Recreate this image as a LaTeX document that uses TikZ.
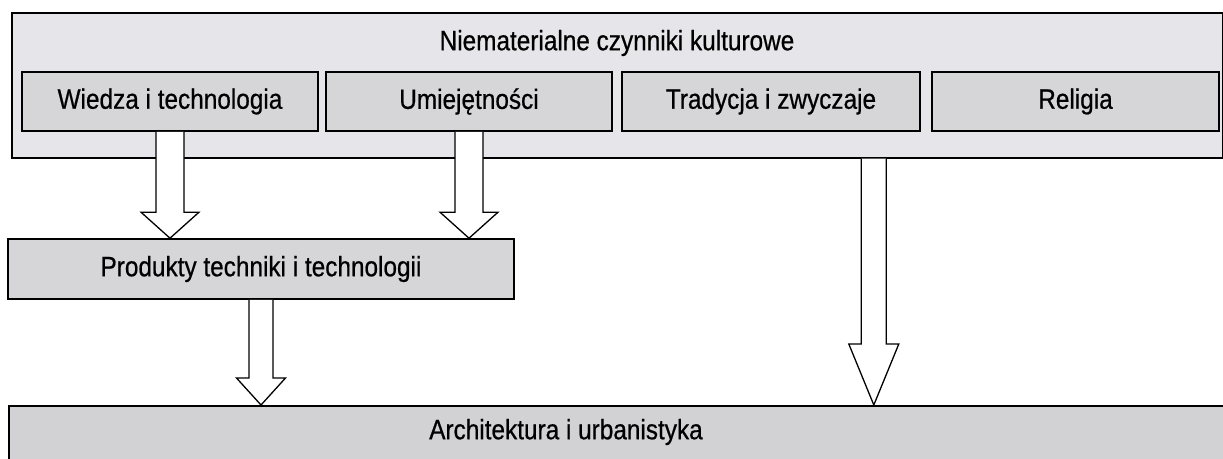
\documentclass[tikz,border=0pt]{standalone}
\usepackage{fontspec}
\setmainfont{Liberation Sans}[FakeStretch=0.87, FakeBold=0.6]
\usetikzlibrary{calc}

\definecolor{outerfill}{RGB}{230,230,234}
\definecolor{boxfill}{RGB}{214,214,217}
\definecolor{archfill}{RGB}{210,210,213}

\tikzset{
  box/.style={draw=black, line width=1.6pt, fill=boxfill, inner sep=0pt,
    font=\fontsize{28pt}{33pt}\selectfont},
  txt/.style={inner sep=0pt, font=\fontsize{28pt}{33pt}\selectfont},
  hollow/.style n args={3}{line width=1.3pt, fill=white, to path={
    ($(\tikztostart)+(-#1,0)$) -- ($(\tikztotarget)+(-#1,#3)$)
    -- ($(\tikztotarget)+(-#2,#3)$) -- (\tikztotarget)
    -- ($(\tikztotarget)+(#2,#3)$) -- ($(\tikztotarget)+(#1,#3)$)
    -- ($(\tikztostart)+(#1,0)$)}}
}

\begin{document}
\begin{tikzpicture}[x=1pt, y=-1pt]
\clip (0,0) rectangle (1223,458);

% Outer box
\node[box, fill=outerfill, minimum width=1211pt, minimum height=145pt, anchor=north west] (czynniki) at (11,12) {};
\node[txt] (tytul) at (617,43) {Niematerialne czynniki kulturowe};

% Factors
\node[box, minimum width=296pt, minimum height=59pt] (wiedza) at (170,101.5) {Wiedza i technologia};
\node[box, minimum width=286pt, minimum height=59pt] (umiej) at (469,101.5) {Umiejętności};
\node[box, minimum width=298pt, minimum height=59pt] (tradycja) at (771,101.5) {Tradycja i zwyczaje};
\node[box, minimum width=287pt, minimum height=59pt] (religia) at (1075.5,101.5) {Religia};

% Products
\node[box, minimum width=506pt, minimum height=60pt] (produkty) at (261,269) {Produkty techniki i technologii};

% Architecture
\node[box, fill=archfill, minimum width=1216pt, minimum height=70pt, anchor=north west] (arch) at (8,405) {};
\node[txt] (archtxt) at (566,432) {Architektura i urbanistyka};

% Arrows
\coordinate (kultura) at ([xshift=256.5pt]czynniki.south);
\draw[hollow={14pt}{29pt}{26pt}] (wiedza.south) to (wiedza.south |- produkty.north);
\draw[hollow={14pt}{29pt}{26pt}] (umiej.south) to (umiej.south |- produkty.north);
\draw[hollow={12pt}{24.5pt}{27pt}] (produkty.south) to (produkty.south |- arch.north);
\draw[hollow={12.5pt}{25pt}{61pt}] (kultura) to (kultura |- arch.north);
\end{tikzpicture}
\end{document}
